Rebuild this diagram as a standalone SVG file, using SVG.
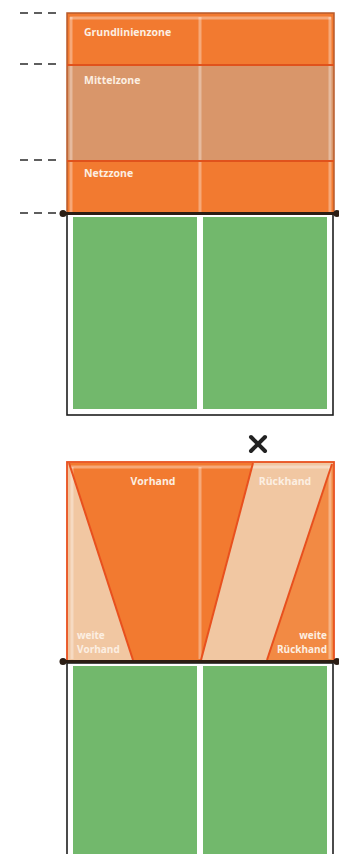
<svg xmlns="http://www.w3.org/2000/svg" width="339" height="854" viewBox="0 0 339 854">
<defs>
<style>
.lbl{font-family:"Open Sans","Liberation Sans",sans-serif;font-weight:bold;font-size:10.5px;fill:#fcefe2}
.sm{font-size:10px}
.dash{stroke:#2a2a2a;stroke-width:1.6;stroke-dasharray:8 6}
.net{stroke:#2b1d14;stroke-width:3}
.netdot{fill:#2b1d14}
.frame{fill:#ffffff;stroke:#1e1e1e;stroke-width:1.6}
.green{fill:#72b86c}
.hot{fill:#f27a30}
.mid{fill:#d9966a}
.peach{fill:#f1c7a2}
.strip{stroke:#ffffff;stroke-opacity:0.35;stroke-width:3;fill:none}
.div{stroke:#e0521c;stroke-width:2}
.edge{stroke:#e8501e;stroke-width:2;fill:none}
</style>
</defs>
<rect width="339" height="854" fill="#ffffff"/>

<g id="zones-table">
  <g id="dashes">
    <line class="dash" x1="20" y1="13" x2="60" y2="13"/>
    <line class="dash" x1="20" y1="64" x2="60" y2="64"/>
    <line class="dash" x1="20" y1="160" x2="60" y2="160"/>
    <line class="dash" x1="20" y1="213" x2="60" y2="213"/>
  </g>
  <g id="top-green">
    <rect class="frame" x="67" y="214" width="266" height="201"/>
    <rect class="green" x="73" y="217" width="124" height="192"/>
    <rect class="green" x="203" y="217" width="124" height="192"/>
  </g>
  <g id="grundlinienzone">
    <rect class="hot" x="67" y="13" width="267" height="52"/>
    <text class="lbl" x="84" y="36">Grundlinienzone</text>
  </g>
  <g id="mittelzone">
    <rect class="mid" x="67" y="65" width="267" height="96"/>
    <text class="lbl" x="84" y="84">Mittelzone</text>
  </g>
  <g id="netzzone">
    <rect class="hot" x="67" y="161" width="267" height="52"/>
    <text class="lbl" x="84" y="177">Netzzone</text>
  </g>
  <g id="top-lines">
    <line class="strip" x1="71" y1="17" x2="71" y2="212"/>
    <line class="strip" x1="330" y1="17" x2="330" y2="212"/>
    <line class="strip" x1="200" y1="17" x2="200" y2="212"/>
    <line class="strip" x1="70" y1="18" x2="331" y2="18"/>
    <rect x="67" y="13" width="267" height="200" fill="none" stroke="#b85a2a" stroke-width="1.5"/>
    <line class="div" x1="67" y1="65" x2="334" y2="65"/>
    <line class="div" x1="67" y1="161" x2="334" y2="161"/>
    <line class="net" x1="63" y1="213.5" x2="337" y2="213.5"/>
    <circle class="netdot" cx="63" cy="213.5" r="3.5"/>
    <circle class="netdot" cx="337" cy="213.5" r="3.5"/>
  </g>
</g>

<g id="cross">
  <line x1="251" y1="437" x2="265" y2="451" stroke="#222" stroke-width="4" stroke-linecap="round"/>
  <line x1="265" y1="437" x2="251" y2="451" stroke="#222" stroke-width="4" stroke-linecap="round"/>
</g>

<g id="hand-table">
  <g id="bottom-green">
    <rect class="frame" x="67" y="663" width="266" height="200"/>
    <rect class="green" x="73" y="666" width="124" height="200"/>
    <rect class="green" x="203" y="666" width="124" height="200"/>
  </g>
  <rect class="peach" x="67" y="462" width="267" height="199"/>
  <g id="vorhand">
    <polygon class="hot" points="69,463 253,463 201,660 133,660"/>
    <text class="lbl" x="153" y="485" text-anchor="middle">Vorhand</text>
  </g>
  <g id="rueckhand">
    <text class="lbl" x="285" y="485" text-anchor="middle">Rückhand</text>
  </g>
  <g id="weite-rueckhand">
    <polygon fill="#f28a44" points="333,463 334,660 267,660"/>
    <text class="lbl sm" x="327" y="638.5" text-anchor="end">weite</text>
    <text class="lbl sm" x="327" y="652.5" text-anchor="end">Rückhand</text>
  </g>
  <g id="weite-vorhand">
    <text class="lbl sm" x="77" y="638.5">weite</text>
    <text class="lbl sm" x="77" y="652.5">Vorhand</text>
  </g>
  <g id="bottom-lines">
    <line class="strip" x1="72" y1="467" x2="72" y2="659"/>
    <line class="strip" x1="330" y1="467" x2="330" y2="659"/>
    <line class="strip" x1="200" y1="467" x2="200" y2="659"/>
    <line class="strip" x1="71" y1="467" x2="331" y2="467"/>
    <line class="edge" x1="69" y1="463" x2="133" y2="660"/>
    <line class="edge" x1="253" y1="463" x2="201" y2="660"/>
    <line class="edge" x1="332" y1="464" x2="267" y2="660"/>
    <rect x="67" y="462" width="267" height="199" fill="none" stroke="#e8501e" stroke-width="1.8"/>
    <line class="net" x1="63" y1="661.5" x2="337" y2="661.5"/>
    <circle class="netdot" cx="63" cy="661.5" r="3.5"/>
    <circle class="netdot" cx="337" cy="661.5" r="3.5"/>
  </g>
</g>
</svg>
